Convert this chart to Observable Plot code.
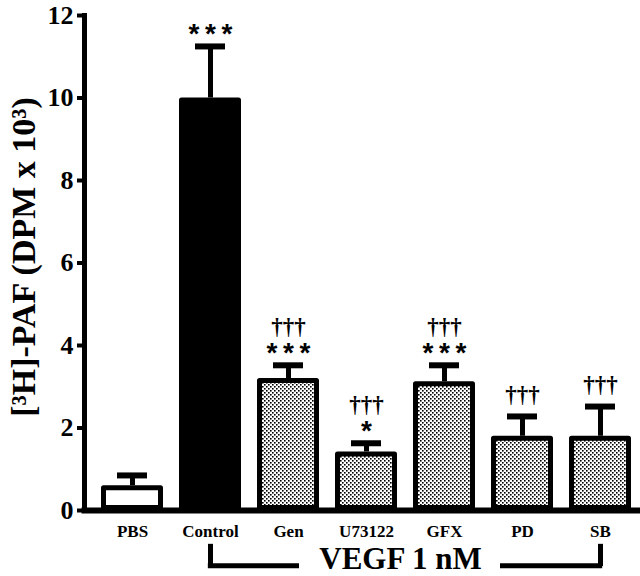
<!DOCTYPE html>
<html>
<head>
<meta charset="utf-8">
<script src="https://cdn.jsdelivr.net/npm/d3@7"></script>
<script src="https://cdn.jsdelivr.net/npm/@observablehq/plot@0.6"></script>
<style>
  html, body { margin: 0; padding: 0; background: #fff; }
</style>
</head>
<body>
<div id="chart"></div>
<script>
// ---- data ----
const categories = ["PBS", "Control", "Gen", "U73122", "GFX", "PD", "SB"];
const means      = [0.6, 10.0, 3.2, 1.42, 3.12, 1.8, 1.8];
const errTops    = [0.85, 11.25, 3.52, 1.63, 3.52, 2.28, 2.52];
const sigVsPBS   = ["", "***", "***", "*", "***", "", ""];
const sigVsCtrl  = ["", "", "†††", "†††", "†††", "†††", "†††"];
const yTicks     = [0, 2, 4, 6, 8, 10, 12];
const yLabel     = "[³H]-PAF (DPM x 10³)";
const groupLabel = "VEGF 1 nM";
const groupFrom  = "Control";
const groupTo    = "SB";

const data = categories.map((c, i) => ({
  cat: c, mean: means[i], err: errTops[i], a: sigVsPBS[i], d: sigVsCtrl[i]
}));

const serif = "Liberation Serif, Times New Roman, serif";
const sans = "Liberation Sans, Arial, sans-serif";

const xRange = [84, 648];
const padIn = 0.2, padOut = 0.2;
const step = (xRange[1] - xRange[0]) / (categories.length - padIn + 2 * padOut);
const halfBand = step * (1 - padIn) / 2;

const chart = Plot.plot({
  width: 640,
  height: 576,
  marginLeft: 84,
  marginRight: 0,
  marginTop: 15,
  marginBottom: 66,
  style: {background: "white", color: "black"},
  x: {domain: categories, range: xRange, paddingInner: padIn, paddingOuter: padOut, axis: null},
  y: {domain: [0, 12], range: [510, 15], axis: null},
  marks: [
    // error bars (upper only)
    Plot.ruleX(data, {x: "cat", y1: "mean", y2: "err", stroke: "black", strokeWidth: 5}),
    Plot.tickY(data, {x: "cat", y: "err", stroke: "black", strokeWidth: 6, insetLeft: 16, insetRight: 16}),
    // bars
    Plot.barY(data.filter(d => d.cat === "PBS"), {x: "cat", y: "mean", fill: "white", stroke: "black", strokeWidth: 5, inset: 2.5, strokeLinejoin: "round"}),
    Plot.barY(data.filter(d => d.cat === "Control"), {x: "cat", y: "mean", fill: "black", stroke: "black", strokeWidth: 5, inset: 2.5, strokeLinejoin: "round"}),
    Plot.barY(data.filter(d => d.cat !== "PBS" && d.cat !== "Control"), {x: "cat", y: "mean", fill: "url(#dots)", stroke: "black", strokeWidth: 5, inset: 2.5, strokeLinejoin: "round"}),
    // significance marks
    Plot.text(data.filter(d => d.a), {x: "cat", y: "err", text: d => d.a.split("").join("\u2009"), dy: -12, fontSize: 28, fontFamily: sans, fontWeight: "bold", fill: "black"}),
    Plot.text(data.filter(d => d.d && d.a), {x: "cat", y: "err", text: "d", dy: -39, fontSize: 23, fontFamily: serif, fontWeight: "bold", fill: "black"}),
    Plot.text(data.filter(d => d.d && !d.a), {x: "cat", y: "err", text: "d", dy: -22, fontSize: 23, fontFamily: serif, fontWeight: "bold", fill: "black"}),
    // axes
    Plot.axisY({ticks: yTicks, tickSize: 7, tickPadding: 4, strokeWidth: 4, fontSize: 26, fontFamily: serif, fontWeight: "bold", label: null}),
    Plot.frame({anchor: "left", stroke: "black", strokeWidth: 5}),
    Plot.frame({anchor: "bottom", stroke: "black", strokeWidth: 6}),
    Plot.text([yLabel], {frameAnchor: "left", textAnchor: "middle", rotate: -90, dx: -60, dy: -6, fontSize: 34, fontFamily: serif, fontWeight: "bold", fill: "black"}),
    // group bracket (two horizontal segments either side of the label)
    Plot.ruleX([groupFrom, groupTo], {x: d => d, y1: -0.82, y2: -1.36, stroke: "black", strokeWidth: 5}),
    Plot.ruleY([-1.34], {y: d => d, x1: () => groupFrom, x2: () => "Gen", insetLeft: halfBand - 2.5, insetRight: 20, stroke: "black", strokeWidth: 5}),
    Plot.ruleY([-1.34], {y: d => d, x1: () => "PD", x2: () => groupTo, insetLeft: 9, insetRight: halfBand - 2.5, stroke: "black", strokeWidth: 5}),
    Plot.text([groupLabel], {x: () => "U73122", y: () => -1.17, dx: 34, fontSize: 31, fontFamily: serif, fontWeight: "bold", fill: "black"}),
    Plot.axisX({tickSize: 0, tickPadding: 14, fontSize: 17, fontFamily: serif, fontWeight: "bold", label: null})
  ]
});

// dotted fill pattern
const svgNS = "http://www.w3.org/2000/svg";
const defs = document.createElementNS(svgNS, "defs");
defs.innerHTML = `<pattern id="dots" width="4" height="4" patternUnits="userSpaceOnUse">
  <rect width="4" height="4" fill="white"/>
  <rect x="0" y="0" width="1.6" height="1.6" fill="black"/>
  <rect x="2" y="2" width="1.6" height="1.6" fill="black"/>
</pattern>`;
chart.insertBefore(defs, chart.firstChild);

document.getElementById("chart").appendChild(chart);
</script>
</body>
</html>
